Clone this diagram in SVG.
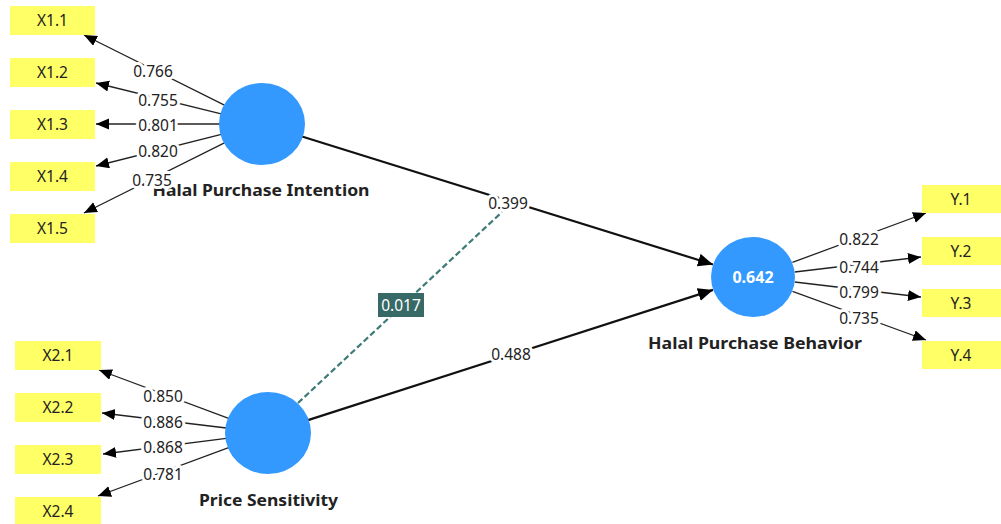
<svg xmlns="http://www.w3.org/2000/svg" width="1001" height="524" viewBox="0 0 1001 524">
<style>
.box{fill:#ffff66}
.bt{font-family:"Noto Sans","Open Sans",sans-serif;font-size:15.5px;fill:#222;text-anchor:middle}
.lv{fill:#3399ff}
.nl{font-family:"Noto Sans","Open Sans",sans-serif;font-size:16px;font-weight:bold;fill:#222;text-anchor:middle}
.o{stroke:#222;stroke-width:1.3;fill:none}
.i{stroke:#111;stroke-width:2.2;fill:none}
.d{stroke:#3d7a78;stroke-width:2.2;fill:none;stroke-dasharray:6 3}
.lb{font-family:"Noto Sans","Open Sans",sans-serif;font-size:15.5px;fill:#222;text-anchor:middle;paint-order:stroke;stroke:#fff;stroke-width:6px;stroke-linejoin:round}
</style>
<defs>
<marker id="ao" markerUnits="userSpaceOnUse" markerWidth="14" markerHeight="12" refX="13" refY="5.5" orient="auto"><path d="M0,0 L13,5.5 L0,11 Z" fill="#000"/></marker>
<marker id="ai" markerUnits="userSpaceOnUse" markerWidth="16" markerHeight="14" refX="15" refY="6.5" orient="auto"><path d="M0,0 L15,6.5 L0,13 Z" fill="#000"/></marker>
</defs>
<rect width="1001" height="524" fill="#fff"/>
<g id="connectors">
<line class="o" x1="224.4" y1="105.2" x2="84" y2="35" marker-end="url(#ao)"/>
<line class="o" x1="221.2" y1="113.9" x2="96" y2="83" marker-end="url(#ao)"/>
<line class="o" x1="220" y1="124" x2="96" y2="124" marker-end="url(#ao)"/>
<line class="o" x1="221.3" y1="134.3" x2="96" y2="166" marker-end="url(#ao)"/>
<line class="o" x1="224.4" y1="142.8" x2="84" y2="213" marker-end="url(#ao)"/>
<line class="o" x1="228.6" y1="418.3" x2="99" y2="370" marker-end="url(#ao)"/>
<line class="o" x1="226.3" y1="428" x2="102" y2="413" marker-end="url(#ao)"/>
<line class="o" x1="226.3" y1="438.3" x2="103" y2="454" marker-end="url(#ao)"/>
<line class="o" x1="228.6" y1="447.6" x2="98" y2="496" marker-end="url(#ao)"/>
<line class="o" x1="792.4" y1="262.4" x2="926" y2="213" marker-end="url(#ao)"/>
<line class="o" x1="794.7" y1="272" x2="921" y2="257" marker-end="url(#ao)"/>
<line class="o" x1="794.7" y1="282" x2="921" y2="297" marker-end="url(#ao)"/>
<line class="o" x1="792.5" y1="291.4" x2="926" y2="340" marker-end="url(#ao)"/>
<line class="i" x1="302" y1="136.5" x2="713" y2="264.5" marker-end="url(#ai)"/>
<line class="i" x1="308" y1="420.1" x2="713" y2="289.9" marker-end="url(#ai)"/>
<line class="d" x1="298" y1="403" x2="502" y2="212"/>
</g>
<g id="X1.1"><rect class="box" x="10" y="6" width="85" height="29"/><text class="bt" x="52.5" y="26">X1.1</text></g>
<g id="X1.2"><rect class="box" x="10" y="58" width="85" height="29"/><text class="bt" x="52.5" y="78">X1.2</text></g>
<g id="X1.3"><rect class="box" x="10" y="110" width="85" height="29"/><text class="bt" x="52.5" y="130">X1.3</text></g>
<g id="X1.4"><rect class="box" x="10" y="162" width="85" height="29"/><text class="bt" x="52.5" y="182">X1.4</text></g>
<g id="X1.5"><rect class="box" x="10" y="214" width="85" height="29"/><text class="bt" x="52.5" y="234">X1.5</text></g>
<g id="X2.1"><rect class="box" x="15" y="341" width="86" height="29"/><text class="bt" x="58" y="361">X2.1</text></g>
<g id="X2.2"><rect class="box" x="15" y="393" width="86" height="29"/><text class="bt" x="58" y="413">X2.2</text></g>
<g id="X2.3"><rect class="box" x="15" y="445" width="86" height="29"/><text class="bt" x="58" y="465">X2.3</text></g>
<g id="X2.4"><rect class="box" x="15" y="497" width="86" height="29"/><text class="bt" x="58" y="517">X2.4</text></g>
<g id="Y.1"><rect class="box" x="922" y="185" width="79" height="28"/><text class="bt" x="961" y="205">Y.1</text></g>
<g id="Y.2"><rect class="box" x="922" y="237" width="79" height="28"/><text class="bt" x="961" y="257">Y.2</text></g>
<g id="Y.3"><rect class="box" x="922" y="289" width="79" height="28"/><text class="bt" x="961" y="309">Y.3</text></g>
<g id="Y.4"><rect class="box" x="922" y="341" width="79" height="28"/><text class="bt" x="961" y="361">Y.4</text></g>
<g id="HPI"><ellipse class="lv" cx="262" cy="124" rx="43" ry="41"/><text class="nl" x="261" y="196" textLength="217" lengthAdjust="spacingAndGlyphs">Halal Purchase Intention</text></g>
<g id="PS"><ellipse class="lv" cx="268" cy="433" rx="43" ry="41"/><text class="nl" x="268.5" y="506" textLength="139" lengthAdjust="spacingAndGlyphs">Price Sensitivity</text></g>
<g id="HPB"><ellipse class="lv" cx="753" cy="277" rx="42" ry="40"/><text x="753" y="283" font-family="Noto Sans, Open Sans, sans-serif" font-size="16" font-weight="bold" fill="#fff" text-anchor="middle">0.642</text><text class="nl" x="755" y="349" textLength="214" lengthAdjust="spacingAndGlyphs">Halal Purchase Behavior</text></g>
<g id="connector-labels">
<text class="lb" x="153" y="76.5">0.766</text>
<text class="lb" x="158" y="105.5">0.755</text>
<text class="lb" x="158" y="130.5">0.801</text>
<text class="lb" x="158" y="157">0.820</text>
<text class="lb" x="152" y="186">0.735</text>
<text class="lb" x="163" y="401.5">0.850</text>
<text class="lb" x="163" y="427.5">0.886</text>
<text class="lb" x="163" y="452.5">0.868</text>
<text class="lb" x="163" y="479.5">0.781</text>
<text class="lb" x="859" y="244.5">0.822</text>
<text class="lb" x="859" y="272.5">0.744</text>
<text class="lb" x="859" y="297.5">0.799</text>
<text class="lb" x="859" y="323.5">0.735</text>
<text class="lb" x="508" y="208.5">0.399</text>
<text class="lb" x="511" y="360">0.488</text>
<rect x="378" y="293" width="46" height="24" fill="#376966"/>
<text x="401" y="310.5" font-family="Noto Sans, Open Sans, sans-serif" font-size="15.5" fill="#fff" text-anchor="middle">0.017</text>
</g>
</svg>
